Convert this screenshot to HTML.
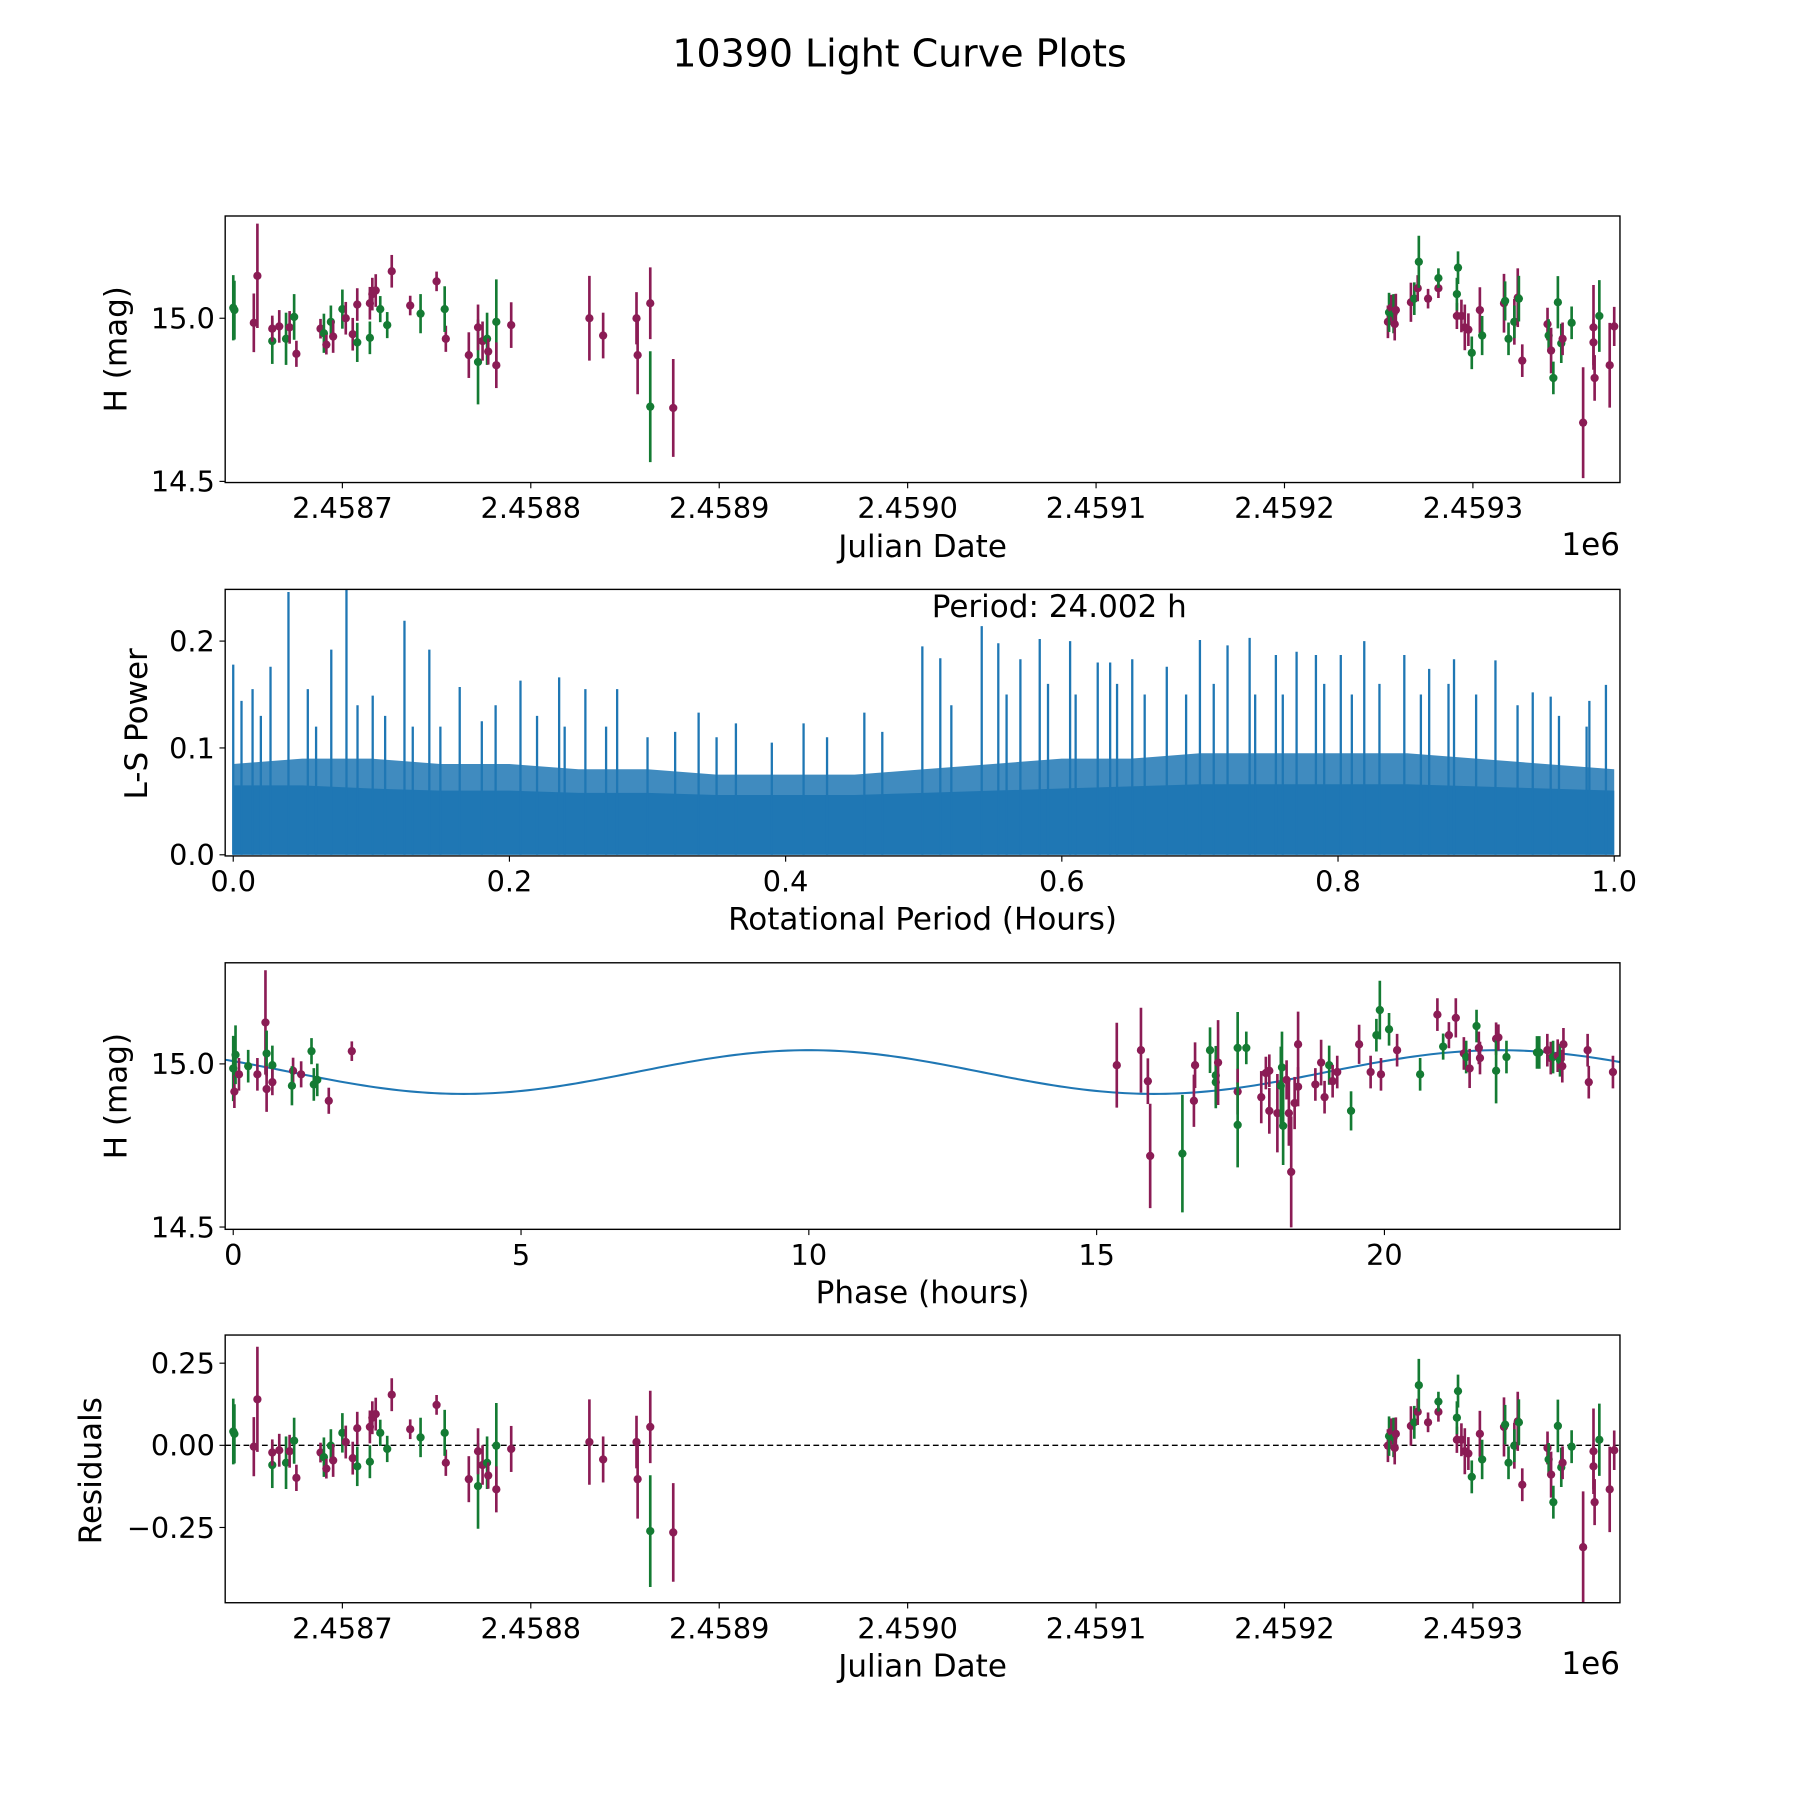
<!DOCTYPE html>
<html><head><meta charset="utf-8"><title>10390 Light Curve Plots</title>
<style>html,body{margin:0;padding:0;background:#fff}svg{display:block}text{font-family:"DejaVu Sans","Liberation Sans",sans-serif;fill:#000}</style>
</head><body>
<svg id="fig" xmlns="http://www.w3.org/2000/svg" width="1800" height="1800" viewBox="0 0 1566.7 1566.7">
<rect width="1566.7" height="1566.7" fill="#fff"/>
<text x="783" y="58" font-size="33" text-anchor="middle">10390 Light Curve Plots</text>
<g id="p1"></g>
<g id="p2"></g>
<g id="p3"></g>
<g id="p4"></g>
</svg>
<script>
// ---------- DATA ----------
// Light curve: days since JD 2458700, magnitude, error, filter (g = green, m = magenta)
const lcDays = [-57.9,-57.3,-47.0,-45.1,-37.2,-37.2,-33.5,-29.9,-28.0,-25.6,-24.4,-11.6,-9.8,-8.5,-6.1,-4.9,0,1.8,5.5,7.9,7.9,14.6,14.6,15.9,17.7,20.1,23.8,26.2,36.0,41.5,50.0,54.9,54.3,67.1,72.0,72.0,74.4,76.8,77.4,81.7,81.7,89.6,131.1,138.4,156.1,156.7,163.4,163.4,175.6,
554.9,555.5,556.7,557.9,558.5,559.1,567.1,568.9,570.7,571.3,576.2,581.7,581.7,591.5,591.5,592.1,593.9,595.7,597.6,599.4,603.7,604.9,616.5,617.1,618.9,622.0,622.0,623.8,624.4,626.2,639.6,640.2,641.5,642.7,645.1,646.9,647.6,652.4,658.5,664.0,664.0,664.6,667.1,672.6,675.0];
const lcMag = [15.032,15.025,14.986,15.130,14.930,14.968,14.975,14.937,14.972,15.004,14.891,14.968,14.954,14.919,14.989,14.944,15.028,15.000,14.951,14.926,15.042,14.940,15.046,15.074,15.085,15.028,14.979,15.144,15.039,15.014,15.113,14.937,15.028,14.887,14.866,14.972,14.930,14.937,14.898,14.989,14.856,14.979,15.000,14.947,15.000,14.887,15.046,14.729,14.725,
14.989,15.018,15.032,15.014,14.982,15.025,15.049,15.060,15.092,15.173,15.060,15.092,15.123,15.007,15.074,15.155,15.007,14.972,14.965,14.894,15.025,14.947,15.046,15.053,14.937,14.989,14.989,15.063,15.060,14.870,14.982,14.947,14.901,14.817,15.049,14.923,14.937,14.986,14.680,14.972,14.926,14.817,15.007,14.856,14.975];
const lcErr = [0.10,0.09,0.09,0.16,0.07,0.04,0.05,0.08,0.05,0.07,0.04,0.03,0.06,0.03,0.05,0.05,0.06,0.05,0.05,0.06,0.05,0.05,0.05,0.05,0.05,0.04,0.04,0.05,0.03,0.06,0.03,0.04,0.07,0.07,0.13,0.07,0.06,0.08,0.04,0.13,0.07,0.07,0.13,0.07,0.08,0.12,0.11,0.17,0.15,
0.05,0.06,0.04,0.06,0.05,0.05,0.06,0.05,0.04,0.08,0.03,0.03,0.03,0.04,0.05,0.05,0.05,0.07,0.05,0.05,0.07,0.06,0.09,0.06,0.05,0.07,0.05,0.09,0.07,0.05,0.05,0.05,0.07,0.05,0.08,0.06,0.05,0.05,0.17,0.13,0.07,0.07,0.11,0.13,0.06];
const lcFilt = "ggmmgmmgmgmmgmgmgmmgmgmmmggmmgmmgmgmmgmgmmmmmmmgm"+"mgmgmmmgmgmmgmggmmmgmgmggmgmgmmgmgggmgmmmmgmmm";
const lcOffset = 14.99; // residual reference level

// Periodogram
const pgPeaksX = [0.0,0.006,0.014,0.027,0.040,0.054,0.071,0.082,0.101,0.124,0.142,0.164,0.208,0.236,0.255,0.278,0.337,0.364,0.413,0.457,0.499,0.512,0.542,0.554,0.570,0.584,0.606,0.626,0.635,0.651,0.676,0.700,0.720,0.736,0.755,0.770,0.784,0.802,0.819,0.848,0.866,0.884,0.914,0.941,0.954,0.982,0.994,
0.02,0.06,0.09,0.11,0.13,0.15,0.18,0.19,0.22,0.24,0.27,0.30,0.32,0.35,0.39,0.43,0.47,0.52,0.56,0.59,0.61,0.64,0.66,0.69,0.71,0.74,0.76,0.79,0.81,0.83,0.86,0.88,0.90,0.93,0.96,0.98];
const pgPeaksY = [0.178,0.144,0.155,0.176,0.246,0.155,0.192,0.26,0.149,0.219,0.192,0.157,0.163,0.166,0.155,0.155,0.133,0.123,0.123,0.133,0.195,0.184,0.214,0.198,0.183,0.202,0.200,0.180,0.180,0.183,0.176,0.201,0.196,0.203,0.187,0.190,0.187,0.187,0.200,0.187,0.174,0.183,0.182,0.152,0.148,0.144,0.159,
0.13,0.12,0.14,0.13,0.12,0.12,0.125,0.14,0.13,0.12,0.12,0.11,0.115,0.11,0.105,0.11,0.115,0.14,0.15,0.16,0.15,0.16,0.15,0.15,0.16,0.15,0.15,0.16,0.15,0.16,0.15,0.16,0.15,0.14,0.13,0.12];
const pgBandX = [0,0.05,0.1,0.15,0.2,0.25,0.3,0.35,0.4,0.45,0.5,0.55,0.6,0.65,0.7,0.75,0.8,0.85,0.9,0.95,1.0];
const pgBandTop = [0.085,0.09,0.09,0.085,0.085,0.08,0.08,0.075,0.075,0.075,0.08,0.085,0.09,0.09,0.095,0.095,0.095,0.095,0.09,0.085,0.08];
const pgBandFloor = [0.065,0.065,0.062,0.06,0.06,0.058,0.058,0.056,0.056,0.056,0.058,0.06,0.062,0.064,0.066,0.066,0.066,0.066,0.064,0.062,0.06];

// Phase-folded
const phX = [0.00,0.02,0.04,0.10,0.26,0.42,0.56,0.58,0.58,0.68,0.68,1.04,1.02,1.18,1.36,1.40,1.46,1.66,2.06,
15.35,15.77,15.89,15.93,16.49,16.69,16.71,16.97,17.07,17.07,17.11,17.45,17.45,17.45,17.60,17.86,17.94,18.00,18.00,18.14,18.20,18.24,18.22,18.30,18.34,18.38,18.44,18.50,18.50,18.80,18.90,18.96,19.04,19.10,19.18,19.42,19.56,19.76,19.86,19.92,19.94,20.08,20.22,20.62,20.92,21.02,21.12,21.24,21.38,21.42,21.48,21.60,21.64,21.66,21.94,21.94,21.98,22.12,22.65,22.69,22.83,22.89,22.93,23.01,23.05,23.09,23.11,23.53,23.55,23.97];
const phMag = [14.986,14.915,15.028,14.968,14.993,14.968,15.127,15.032,14.923,14.996,14.944,14.979,14.933,14.968,15.039,14.937,14.951,14.887,15.039,
14.996,15.042,14.947,14.718,14.725,14.887,14.996,15.042,14.944,14.965,15.004,15.049,14.915,14.813,15.049,14.898,14.972,14.979,14.856,14.849,14.933,14.810,14.989,14.951,14.849,14.669,14.880,14.930,15.060,14.937,15.004,14.898,14.996,14.947,14.975,14.856,15.060,14.975,15.088,15.165,14.968,15.106,15.042,14.968,15.151,15.053,15.088,15.141,15.032,15.021,14.986,15.116,15.049,15.018,15.077,14.979,15.081,15.021,15.035,15.035,15.042,15.018,15.021,15.025,15.011,14.993,15.060,15.042,14.944,14.975];
const phErr = [0.10,0.05,0.09,0.05,0.05,0.05,0.16,0.07,0.07,0.06,0.04,0.04,0.06,0.04,0.04,0.05,0.05,0.04,0.03,
0.13,0.13,0.07,0.16,0.18,0.08,0.07,0.07,0.08,0.09,0.13,0.11,0.07,0.13,0.05,0.08,0.05,0.05,0.07,0.12,0.12,0.12,0.11,0.06,0.10,0.17,0.08,0.06,0.10,0.05,0.07,0.05,0.06,0.05,0.05,0.06,0.06,0.05,0.05,0.09,0.05,0.05,0.05,0.05,0.05,0.04,0.04,0.06,0.05,0.05,0.06,0.05,0.05,0.05,0.05,0.10,0.04,0.05,0.05,0.05,0.05,0.05,0.05,0.05,0.05,0.05,0.05,0.05,0.05,0.05];
const phFilt = "gmgmgmmgmgmmgmgggmm"+"mmmmgmmgggmgmggmmmmmgggmmmmmmmmmgmmgmmggmgmgmgmmmgmgmmmgmgggmmgmgm";
const fitMean = [14.975];
const fitAmp = [0.067];
const fitPeriod = [12];
const fitPeak = [10];

// ---------- DRAWING ----------
const NS = "http://www.w3.org/2000/svg";
const MAG = "#8b1c55", GRN = "#147b33", BLUE = "#1f77b4";
const TF = 25, LF = 27;
function mk(parent, tag, attrs, txt){
  const e = document.createElementNS(NS, tag);
  for (const k in attrs) e.setAttribute(k, attrs[k]);
  if (txt !== undefined) e.textContent = txt;
  parent.appendChild(e); return e;
}
function lin(d0,d1,p0,p1){ return v => p0 + (v-d0)*(p1-p0)/(d1-d0); }

function frame(g, L, T, R, B){
  const r = mk(g,'rect',{x:L,y:T,width:R-L,height:B-T,fill:'none',stroke:'#000','stroke-width':1.2});
  
  
}
function xticks(g, vals, labels, sx, B, name){
  vals.forEach((v,i)=>{
    const x = sx(v);
    const t = mk(g,'line',{x1:x,x2:x,y1:B,y2:B+5,stroke:'#000','stroke-width':1});
    
    
    const l = mk(g,'text',{x:x,y:B+31,'font-size':TF,'text-anchor':'middle'},labels[i]);
    
    
  });
}
function yticks(g, vals, labels, sy, L, name){
  vals.forEach((v,i)=>{
    const y = sy(v);
    const t = mk(g,'line',{x1:L-5,x2:L,y1:y,y2:y,stroke:'#000','stroke-width':1});
    
    
    const l = mk(g,'text',{x:L-9,y:y+9,'font-size':TF,'text-anchor':'end'},labels[i]);
    
    
  });
}
function label(g, txt, x, y, rot, name){
  const a = {x:x,y:y,'font-size':LF,'text-anchor':'middle'};
  if (rot) a.transform = 'rotate(-90 '+x+' '+y+')';
  const l = mk(g,'text',a,txt);
  
  
}
function errpt(g, x, y1, y2, yc, col, name){
  const gg = mk(g,'g',{});
  
  
  mk(gg,'line',{x1:x,x2:x,y1:y1,y2:y2,stroke:col,'stroke-width':2.3});
  mk(gg,'circle',{cx:x,cy:yc,r:3.6,fill:col});
}
const L=196, R=1410;
const jdTicks = [0,100,200,300,400,500,600];
const jdLabels = ["2.4587","2.4588","2.4589","2.4590","2.4591","2.4592","2.4593"];

// Panel 1
(function(){
  const g = document.getElementById('p1');
  const T=188,B=420;
  const sx = lin(0,100,298,462), sy = lin(15.0,14.5,277,419);
  const clip = mk(g,'clipPath',{id:'c1'}); mk(clip,'rect',{x:L,y:T,width:R-L,height:B-T});
  const pts = mk(g,'g',{'clip-path':'url(#c1)'});
  lcDays.forEach((d,i)=>{
    errpt(pts, sx(d), sy(lcMag[i]+lcErr[i]), sy(lcMag[i]-lcErr[i]), sy(lcMag[i]), lcFilt[i]==='g'?GRN:MAG, 'light-curve-point');
  });
  frame(g,L,T,R,B);
  xticks(g, jdTicks, jdLabels, sx, B, 'x-axis');
  yticks(g, [14.5,15.0], ["14.5","15.0"], sy, L, 'y-axis');
  label(g,'Julian Date',803,485,false,'x-axis-title');
  label(g,'H (mag)',110,304,true,'y-axis-title');
  const o = mk(g,'text',{x:R,y:483,'font-size':LF,'text-anchor':'end'},'1e6');
   
})();

// Panel 2
(function(){
  const g = document.getElementById('p2');
  const T=513,B=745;
  const sx = lin(0,1,203,1405), sy = lin(0,0.1,744,651);
  const clip = mk(g,'clipPath',{id:'c2'}); mk(clip,'rect',{x:L,y:T,width:R-L,height:B-T});
  const cg = mk(g,'g',{'clip-path':'url(#c2)'});
  let top = pgBandX.map((x,i)=>sx(x)+','+sy(pgBandTop[i])).join(' ');
  const band = mk(cg,'polygon',{points: sx(0)+','+sy(0)+' '+top+' '+sx(1)+','+sy(0), fill:BLUE,'fill-opacity':0.85});
  
  
  let fl = pgBandX.map((x,i)=>sx(x)+','+sy(pgBandFloor[i])).join(' ');
  const floor = mk(cg,'polygon',{points: sx(0)+','+sy(0)+' '+fl+' '+sx(1)+','+sy(0), fill:BLUE});
  
  
  pgPeaksX.forEach((x,i)=>{
    const l = mk(cg,'line',{x1:sx(x),x2:sx(x),y1:sy(0),y2:sy(pgPeaksY[i]),stroke:BLUE,'stroke-width':2});
    
    
  });
  frame(g,L,T,R,B);
  xticks(g,[0,0.2,0.4,0.6,0.8,1.0],["0.0","0.2","0.4","0.6","0.8","1.0"],sx,B,'x-axis');
  yticks(g,[0,0.1,0.2],["0.0","0.1","0.2"],sy,L,'y-axis');
  label(g,'Rotational Period (Hours)',803,809,false,'x-axis-title');
  label(g,'L-S Power',128,630,true,'y-axis-title');
  const p = mk(g,'text',{x:922,y:537,'font-size':LF,'text-anchor':'middle'},'Period: 24.002 h');
   
})();

// Panel 3
(function(){
  const g = document.getElementById('p3');
  const T=838,B=1070;
  const sx = lin(0,5,203,453.5), sy = lin(15.0,14.5,926,1068);
  const clip = mk(g,'clipPath',{id:'c3'}); mk(clip,'rect',{x:L,y:T,width:R-L,height:B-T});
  const cg = mk(g,'g',{'clip-path':'url(#c3)'});
  const pts=[];
  for (let i=0;i<=240;i++){ const t=-0.2+i*0.1025; const m=fitMean[0]+fitAmp[0]*Math.cos(2*Math.PI*(t-fitPeak[0])/fitPeriod[0]); pts.push(sx(t)+','+sy(m)); }
  const c = mk(cg,'polyline',{points:pts.join(' '),fill:'none',stroke:BLUE,'stroke-width':1.8});
   
  phX.forEach((x,i)=>{
    errpt(cg, sx(x), sy(phMag[i]+phErr[i]), sy(phMag[i]-phErr[i]), sy(phMag[i]), phFilt[i]==='g'?GRN:MAG, 'phase-point');
  });
  frame(g,L,T,R,B);
  xticks(g,[0,5,10,15,20],["0","5","10","15","20"],sx,B,'x-axis');
  yticks(g,[14.5,15.0],["14.5","15.0"],sy,L,'y-axis');
  label(g,'Phase (hours)',803,1134,false,'x-axis-title');
  label(g,'H (mag)',110,954,true,'y-axis-title');
})();

// Panel 4
(function(){
  const g = document.getElementById('p4');
  const T=1162,B=1395;
  const sx = lin(0,100,298,462), sy = lin(0,0.25,1258,1186.5);
  const clip = mk(g,'clipPath',{id:'c4'}); mk(clip,'rect',{x:L,y:T,width:R-L,height:B-T});
  const cg = mk(g,'g',{'clip-path':'url(#c4)'});
  const z = mk(cg,'line',{x1:L,x2:R,y1:sy(0),y2:sy(0),stroke:'#000','stroke-width':1.2,'stroke-dasharray':'5,3'});
   
  lcDays.forEach((d,i)=>{
    const r = lcMag[i]-lcOffset;
    errpt(cg, sx(d), sy(r+lcErr[i]), sy(r-lcErr[i]), sy(r), lcFilt[i]==='g'?GRN:MAG, 'residual-point');
  });
  frame(g,L,T,R,B);
  xticks(g, jdTicks, jdLabels, sx, B, 'x-axis');
  yticks(g,[-0.25,0,0.25],["\u22120.25","0.00","0.25"],sy,L,'y-axis');
  label(g,'Julian Date',803,1459,false,'x-axis-title');
  label(g,'Residuals',88,1280,true,'y-axis-title');
  const o = mk(g,'text',{x:R,y:1457,'font-size':LF,'text-anchor':'end'},'1e6');
   
})();
</script>
</body></html>
